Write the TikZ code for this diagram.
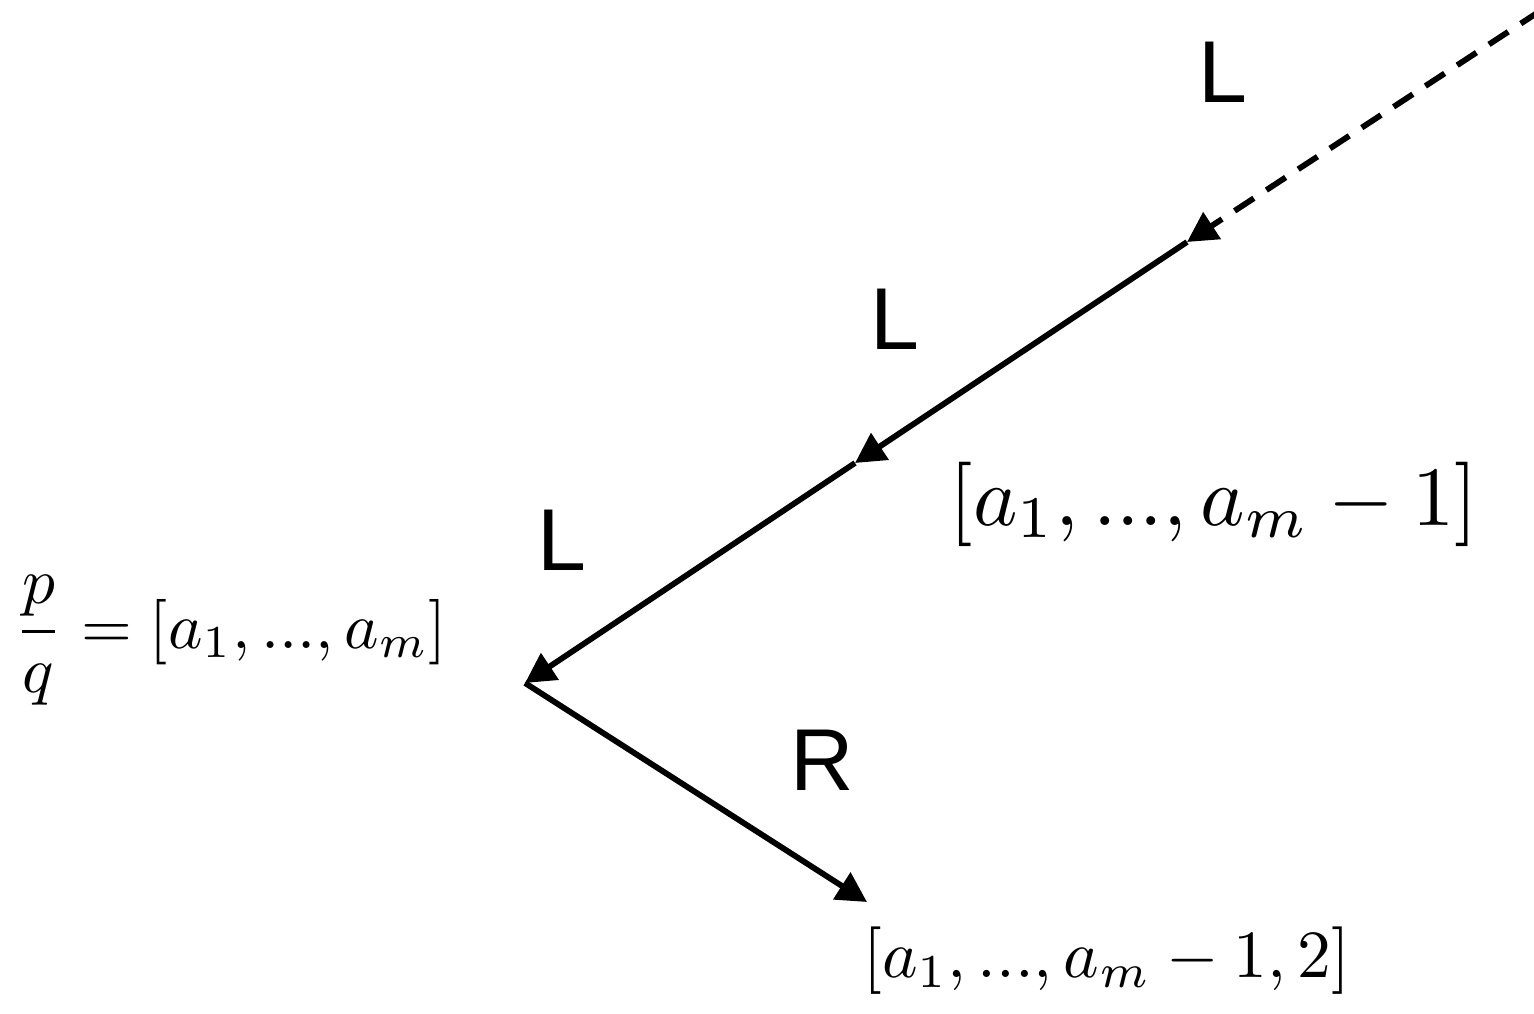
\documentclass[tikz,border=0pt]{standalone}
\usepackage{fontspec}
\newfontfamily\labfont{Liberation Sans}
\usetikzlibrary{arrows.meta}
\tikzset{
  edge/.style={line width=0.058cm, -{Triangle[length=0.30cm,width=0.31cm]}},
  dashedge/.style={edge, dash pattern=on 0.23cm off 0.15cm},
  lab/.style={anchor=base, inner sep=0, font=\fontsize{25}{29}\labfont},
  mathlab/.style={inner sep=0, transform shape},
}
\begin{document}
\begin{tikzpicture}
\useasboundingbox (0,0) rectangle (15.34,10.13);
\coordinate (A) at (15.40,10.02);
\coordinate (B) at (11.87,7.71);
\coordinate (C) at (8.55,5.50);
\coordinate (D) at (5.25,3.30);
\coordinate (E) at (8.67,1.11);
\draw[dashedge] (A) -- (B);
\draw[edge] (B) -- (C);
\draw[edge] (C) -- (D);
\draw[edge] (D) -- (E);
\node[lab] (l1) at (12.23,9.10) {L};
\node[lab] (l2) at (8.95,6.63) {L};
\node[lab] (l3) at (5.62,4.43) {L};
\node[lab] (r1) at (8.22,2.23) {R};
\node[mathlab, scale=2.40, anchor=base] (m1) at (12.14,4.88) {$[a_1, ..., a_m-1]$};
\node[mathlab, scale=1.86, anchor=base west] (m2) at (0.13,3.65) {$\displaystyle\frac{p}{q}=[a_1, ..., a_m]$};
\node[mathlab, scale=1.92, anchor=base] (m3) at (11.065,0.36) {$[a_1, ..., a_m-1, 2]$};
\end{tikzpicture}
\end{document}
